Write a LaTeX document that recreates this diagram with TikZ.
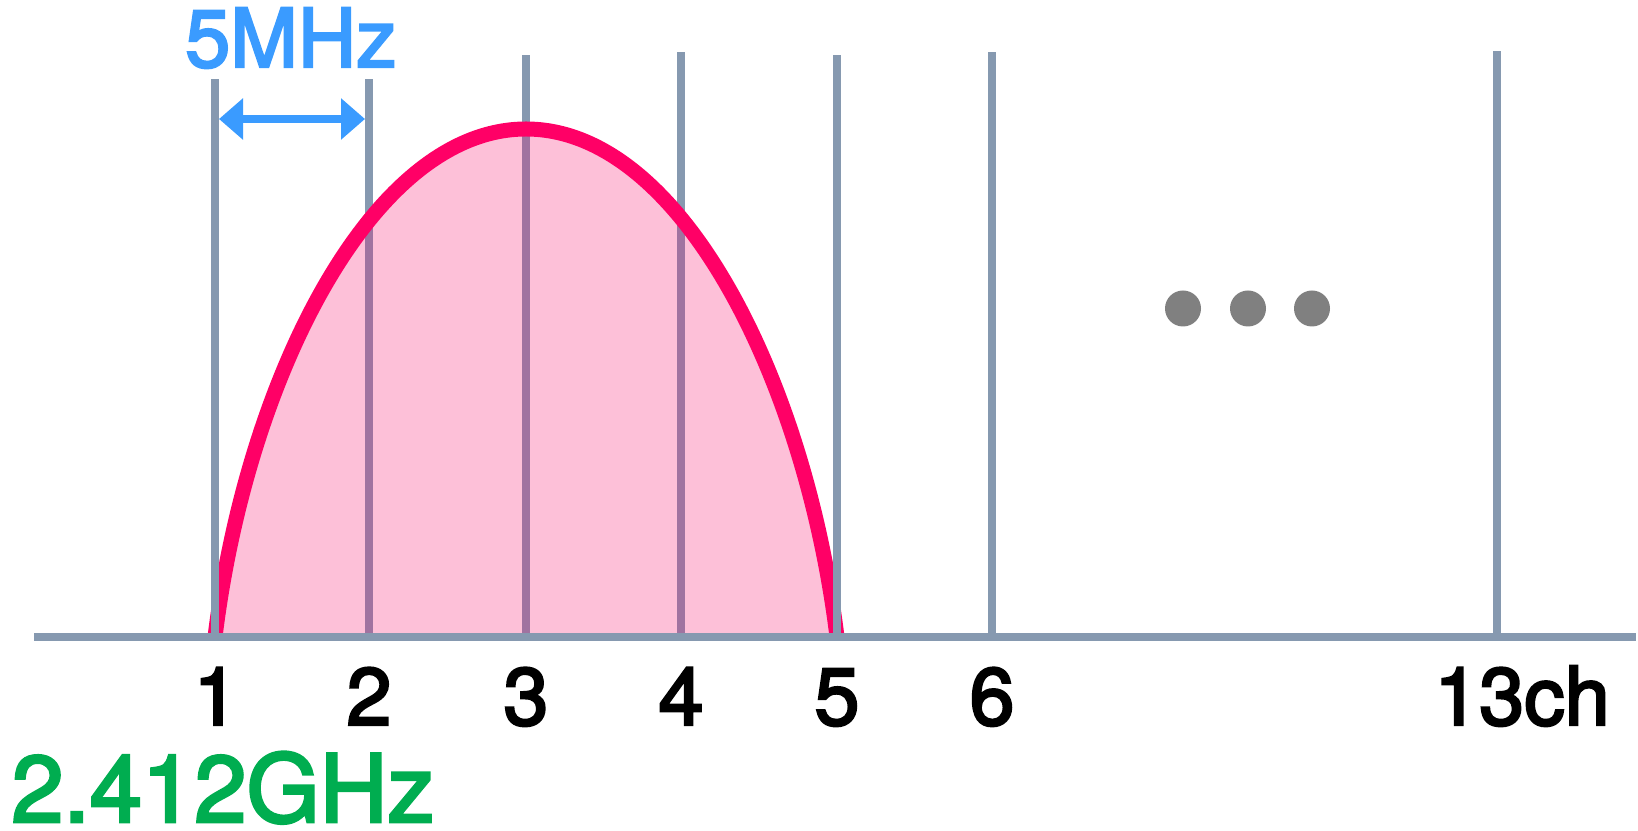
\documentclass[tikz,border=0pt]{standalone}
\usepackage{fontspec}
\setmainfont{TeX Gyre Heros}
\newfontfamily\labelfont[FakeBold=3]{TeX Gyre Heros}
\usetikzlibrary{arrows.meta}

\definecolor{axisgray}{RGB}{134,153,176}
\definecolor{linepurple}{RGB}{160,115,160}
\definecolor{humpred}{RGB}{255,0,102}
\definecolor{humppink}{RGB}{253,192,216}
\definecolor{arrowblue}{RGB}{58,155,255}
\definecolor{freqgreen}{RGB}{0,173,80}
\definecolor{dotgray}{RGB}{128,128,128}

\begin{document}
\begin{tikzpicture}[
  x=0.5pt, y=0.5pt,
  chline/.style={draw=axisgray, line width=4pt},
  innerline/.style={draw=linepurple, line width=4pt},
  hump/.style={draw=humpred, line width=7.5pt},
  chlabel/.style={font=\fontsize{40.5}{48}\labelfont, anchor=base, inner sep=0pt},
  spanarrow/.style={draw=arrowblue, line width=4pt,
    {Triangle[length=12pt,width=20pt]}-{Triangle[length=12pt,width=20pt]},
    shorten <=2pt, shorten >=2pt}
]
% 1638 by 830 canvas, the axis sits at y=0
\path[use as bounding box] (0,-193) rectangle (1638,637);

% channels 2 to 4 lie under the band, so they go first
\foreach \cx/\top in {369/558, 526/582, 681/585}
  \draw[chline] (\cx,0) -- (\cx,\top);

% band of channel 3, from ch1 to ch5
\begin{scope}
  \clip (215,0) .. controls (246,254) and (370,508) .. (526,508)
    .. controls (682,508) and (806,254) .. (837,0) -- cycle;
  \fill[humppink] (215,0) rectangle (837,520);
  \foreach \cx/\top in {369/558, 526/582, 681/585}
    \draw[innerline] (\cx,0) -- (\cx,\top);
\end{scope}
\draw[hump] (215,0) .. controls (246,254) and (370,508) .. (526,508)
  .. controls (682,508) and (806,254) .. (837,0);

% remaining channel lines and the axis on top
\foreach \cx/\top in {215/558, 837/582, 992/585, 1497/586}
  \draw[chline] (\cx,0) -- (\cx,\top);
\draw[chline] (34,0) -- (1636,0);

% channel spacing
\coordinate (w1) at (215,518);
\coordinate (w2) at (369,518);
\draw[spanarrow] (w1) -- (w2);
\node[chlabel, text=arrowblue] (spacing) at (291,570) {5MHz};

% channel numbers
\foreach \cx/\n in {216/1, 369/2, 526/3, 681/4, 837/5, 992/6}
  \node[chlabel] (ch\n) at (\cx,-88) {\n};
\node[chlabel] (ch13) at (1522,-88) {13ch};
\node[chlabel, anchor=base west, font=\fontsize{47}{56}\labelfont,
  text=freqgreen] (freq) at (11,-185) {2.412GHz};

% skipped channels
\foreach \cx in {1183, 1248, 1312}
  \fill[dotgray] (\cx,328.5) circle[radius=18];
\end{tikzpicture}
\end{document}
